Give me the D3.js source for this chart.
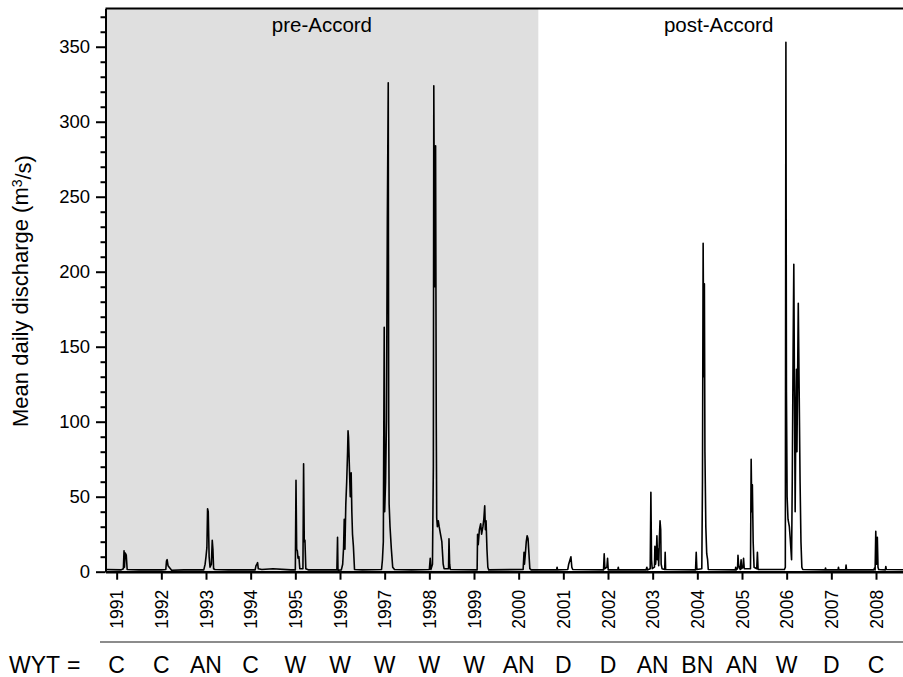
<!DOCTYPE html>
<html><head><meta charset="utf-8">
<script src="https://cdn.jsdelivr.net/npm/d3@7"></script>
<style>body{margin:0;background:#fff}svg{display:block}text{font-family:"Liberation Sans",Arial,sans-serif;fill:#000}</style>
</head><body>
<svg id="c" width="903" height="677"></svg>
<script>
// Years with tick labels
const years = d3.range(1991, 2009);
// Water-year type per year
const wyt = ["C","C","AN","C","W","W","W","W","W","AN","D","D","AN","BN","AN","W","D","C"];
const yTicks = [0,50,100,150,200,250,300,350];
const periods = [{label:"pre-Accord", start:1990.75, end:2000.44},{label:"post-Accord", start:2000.44, end:2008.75}];
// Mean daily discharge (m3/s) at decimal year
const qYear = [1990.76,1991.10,1991.15,1991.165,1991.175,1991.19,1991.215,1991.235,1991.5,1992.0,1992.10,1992.115,1992.13,1992.15,1992.19,1992.23,1992.5,1992.95,1992.98,1993.00,1993.02,1993.035,1993.05,1993.07,1993.09,1993.12,1993.14,1993.155,1993.17,1993.2,1993.5,1994.10,1994.12,1994.14,1994.155,1994.17,1994.25,1994.5,1994.9,1995.0,1995.015,1995.03,1995.045,1995.06,1995.08,1995.1,1995.17,1995.185,1995.20,1995.215,1995.235,1995.3,1995.93,1995.945,1995.955,1996.03,1996.06,1996.08,1996.095,1996.11,1996.13,1996.15,1996.17,1996.18,1996.19,1996.21,1996.23,1996.25,1996.265,1996.28,1996.30,1996.325,1996.5,1996.93,1996.95,1996.97,1996.99,1997.0,1997.02,1997.04,1997.06,1997.08,1997.09,1997.1,1997.12,1997.15,1997.18,1997.22,1997.6,1998.0,1998.02,1998.035,1998.07,1998.09,1998.10,1998.12,1998.14,1998.155,1998.165,1998.18,1998.2,1998.22,1998.25,1998.28,1998.31,1998.33,1998.43,1998.44,1998.455,1998.47,1999.07,1999.08,1999.095,1999.12,1999.15,1999.17,1999.20,1999.22,1999.24,1999.255,1999.27,1999.29,1999.31,1999.33,2000.10,2000.12,2000.13,2000.15,2000.17,2000.19,2000.21,2000.23,2000.25,2000.28,2000.85,2000.86,2000.87,2001.10,2001.12,2001.15,2001.17,2001.19,2001.21,2001.90,2001.915,2001.93,2001.975,2001.99,2002.005,2002.22,2002.23,2002.24,2002.85,2002.87,2002.88,2002.945,2002.96,2002.975,2002.99,2003.04,2003.05,2003.065,2003.08,2003.095,2003.11,2003.125,2003.135,2003.15,2003.165,2003.18,2003.19,2003.21,2003.27,2003.28,2003.29,2003.96,2003.975,2003.99,2004.10,2004.115,2004.13,2004.145,2004.158,2004.17,2004.19,2004.21,2004.23,2004.245,2004.85,2004.86,2004.87,2004.90,2004.91,2004.925,2004.96,2004.98,2004.99,2005.02,2005.035,2005.05,2005.19,2005.205,2005.22,2005.232,2005.25,2005.27,2005.33,2005.345,2005.36,2005.95,2005.97,2005.983,2005.995,2006.01,2006.03,2006.06,2006.08,2006.11,2006.125,2006.145,2006.16,2006.175,2006.19,2006.205,2006.22,2006.23,2006.245,2006.26,2006.28,2006.3,2006.32,2006.34,2006.36,2006.86,2006.87,2006.88,2007.15,2007.16,2007.17,2007.32,2007.33,2007.34,2007.95,2007.97,2007.98,2007.995,2008.01,2008.03,2008.045,2008.06,2008.21,2008.22,2008.23,2008.75];
const qValue = [1.5,1.2,2,14,3,12.5,11,1.5,1.2,1.2,1.5,7,8,4,2.5,1,1.2,1.2,5,10,16,42,40,10,3,5,21,15,2,1.5,1.2,1.2,4,5,6,2,1.5,2,1.2,1.2,61,15,14,9,10,2,2,72,20,21,2,1.2,1.2,23,1,1.2,5,16,35,15,45,60,80,94,90,70,50,66,40,25,17,1.5,1.2,1.5,8,20,163,40,60,100,236,326,100,45,30,15,3,1.5,1.2,1.5,9,1.5,5,70,324,190,284,100,36,30,34,30,25,20,5,2,2,22,5,1.5,1.2,25,18,28,32,25,30,35,44,28,34,15,3,1.2,1.5,13,5,12,20,24,22,12,2,1.2,1.2,3,1.2,1.5,5,8,10,3,1.5,1.2,12,2,3,9,1.2,1.2,3,1.2,1.2,3,1.2,2,53,8,2,3,17,5,10,24,8,15,4,22,34,28,5,2,1.5,13,1.5,1.2,13,1.5,2,60,219,130,192,80,30,12,8,1.5,1.2,3,1.2,2,11,4,1.5,8,2,3,9,2,2,75,40,58,20,3,2,13,1.5,1.5,3,353,120,50,35,30,22,8,60,150,205,120,40,100,135,80,130,179,120,60,20,3,1.5,1.2,2.5,1.2,1.2,3,1.2,1.2,4.5,1.2,1.2,2.5,1.2,27,5,23,3,1.5,1.2,3.5,1.5,1.2];
const series = qYear.map((t,i)=>({t, q:qValue[i]}));

const svg = d3.select("#c");
const pLeft = 105.5, pRight = 909.5, pTop = 8.5, pBottom = 571.7;
const x = d3.scaleLinear().domain([1990.75, 2008.75]).range([pLeft, pRight]);
const y = d3.scaleLinear().domain([0, 375.5]).range([pBottom, pTop]);

svg.append("defs").append("clipPath").attr("id","clip").append("rect")
  .attr("x", pLeft).attr("y", pTop).attr("width", pRight-pLeft).attr("height", pBottom-pTop);

// shaded period
svg.append("rect").attr("x", x(periods[0].start)).attr("y", pTop)
  .attr("width", x(periods[0].end)-x(periods[0].start)).attr("height", pBottom-pTop).attr("fill","#dfdfdf");

periods.forEach((p,i)=>{
  svg.append("text").attr("x", (x(p.start)+x(p.end))/2 + (i===0?0:-(x(p.end)-903)/2 - 2))
    .attr("y",32).attr("text-anchor","middle").style("font-size","20.5px").text(p.label);
});

// line
svg.append("path").datum(series).attr("clip-path","url(#clip)")
  .attr("fill","none").attr("stroke","#000").attr("stroke-width",1.6).attr("stroke-linejoin","round")
  .attr("d", d3.line().x(d=>x(d.t)).y(d=>y(d.q)));

// frame
svg.append("line").attr("x1",pLeft).attr("x2",903).attr("y1",pTop).attr("y2",pTop).attr("stroke","#000").attr("stroke-width",2);

// y axis
const yAx = svg.append("g").attr("transform",`translate(${pLeft},0)`)
  .call(d3.axisLeft(y).tickValues(yTicks).tickSize(9.5).tickPadding(6).tickSizeOuter(0));
yAx.select(".domain").attr("stroke-width",2);
yAx.selectAll(".tick line").attr("stroke-width",2);
yAx.selectAll("text").style("font-size","18.5px");
const yMinor = svg.append("g").attr("transform",`translate(${pLeft},0)`)
  .call(d3.axisLeft(y).tickValues(d3.range(0,371,10).filter(v=>v%50)).tickSize(5).tickFormat("").tickSizeOuter(0));
yMinor.select(".domain").remove();
yMinor.selectAll(".tick line").attr("stroke-width",2);

// x axis
const xAx = svg.append("g").attr("transform",`translate(0,${pBottom})`)
  .call(d3.axisBottom(x).tickValues(years).tickSize(8).tickFormat(d3.format("d")).tickSizeOuter(0));
xAx.select(".domain").attr("stroke-width",2.5);
xAx.selectAll(".tick line").attr("stroke-width",2);
xAx.selectAll("text").attr("transform","rotate(-90)").attr("text-anchor","end")
  .attr("x",-18).attr("y",0).attr("dy","0.36em").style("font-size","17.5px");

// y label
const yl = svg.append("text").attr("transform","translate(28,291) rotate(-90)").attr("text-anchor","middle")
  .style("font-size","22px");
yl.append("tspan").text("Mean daily discharge (m");
yl.append("tspan").attr("dy","-0.4em").style("font-size","14px").text("3");
yl.append("tspan").attr("dy","0.4em").text("/s)");

// WYT row
svg.append("line").attr("x1",100).attr("x2",903).attr("y1",642).attr("y2",642).attr("stroke","#666").attr("stroke-width",1.5);
svg.append("text").attr("x",9).attr("y",673).style("font-size","23px").text("WYT");
svg.append("text").attr("x",67).attr("y",673).style("font-size","23px").text("=");
svg.selectAll("text.wyt").data(wyt).enter().append("text").attr("class","wyt")
  .attr("x",(d,i)=>x(years[i])).attr("y",673).attr("text-anchor","middle").style("font-size","23px").text(d=>d);
</script>
</body></html>
